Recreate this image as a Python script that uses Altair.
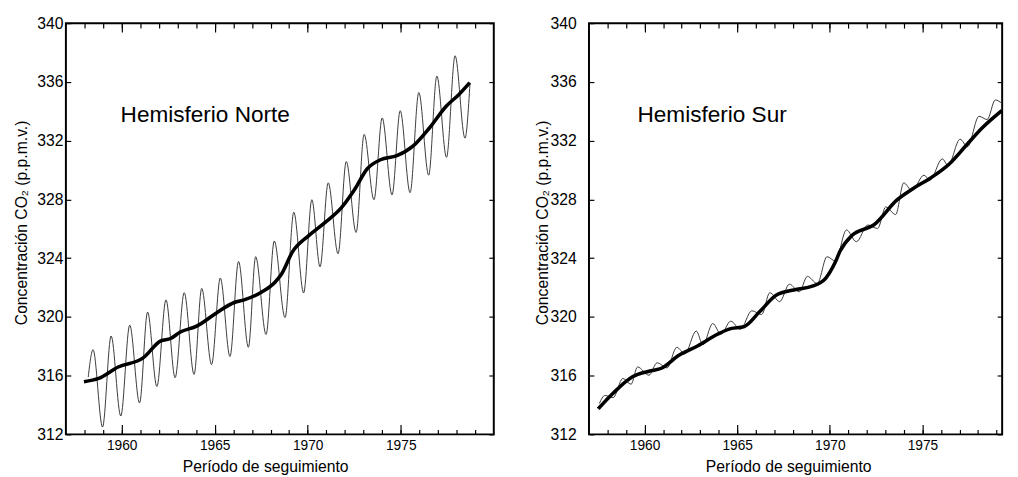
import altair as alt
import pandas as pd

# ---------------- data ----------------
nh_season_year = [1958.2, 1958.46, 1958.97, 1959.43, 1959.95, 1960.43, 1960.96, 1961.39, 1961.89,
                  1962.38, 1962.87, 1963.36, 1963.89, 1964.3, 1964.83, 1965.3, 1965.82, 1966.28,
                  1966.81, 1967.2, 1967.76, 1968.2, 1968.78, 1969.25, 1969.78, 1970.22, 1970.66,
                  1971.1, 1971.63, 1972.07, 1972.6, 1973.03, 1973.56, 1974.0, 1974.53, 1974.97,
                  1975.5, 1975.97, 1976.5, 1976.94, 1977.46, 1977.92, 1978.45, 1978.72]
nh_season_val = [315.9, 317.77, 312.5, 318.7, 313.25, 319.44, 314.14, 320.33, 315.26,
                 321.16, 315.86, 321.65, 316.08, 321.94, 316.75, 322.65, 317.3, 323.78,
                 317.93, 324.1, 318.8, 325.17, 319.95, 327.13, 321.63, 327.98, 323.41,
                 329.13, 324.3, 330.58, 325.75, 332.43, 327.98, 333.55, 328.31, 334.04,
                 328.46, 335.28, 329.65, 336.4, 330.87, 337.78, 332.17, 335.9]

nh_trend_year = [1957.97, 1958.76, 1959.81, 1961.13, 1962.1, 1962.63, 1963.15, 1964.03, 1965.09,
                 1966.05, 1966.58, 1967.55, 1968.25, 1968.6, 1969.17, 1970.04, 1970.92, 1971.8,
                 1972.5, 1973.2, 1973.91, 1974.79, 1975.67, 1976.55, 1977.43, 1978.13, 1978.71]
nh_trend_val = [315.59, 315.81, 316.59, 317.19, 318.37, 318.53, 318.97, 319.37, 320.27,
                320.98, 321.16, 321.71, 322.38, 322.94, 324.41, 325.52, 326.42, 327.42,
                328.64, 330.09, 330.7, 330.98, 331.65, 332.88, 334.33, 335.15, 335.95]

sh_season_year = [1957.56, 1957.86, 1958.3, 1958.83, 1959.27, 1959.62, 1960.24, 1960.68, 1961.21,
                  1961.74, 1962.17, 1962.79, 1963.15, 1963.68, 1964.12, 1964.65, 1965.17, 1965.79,
                  1966.32, 1966.76, 1967.29, 1967.82, 1968.35, 1968.79, 1969.32, 1969.85, 1970.3,
                  1970.9, 1971.43, 1972.05, 1972.58, 1973.02, 1973.55, 1973.99, 1974.43, 1975.08,
                  1975.4, 1976.07, 1976.38, 1977.03, 1977.43, 1978.05, 1978.49, 1978.93, 1979.28]
sh_season_val = [314.1, 314.65, 314.5, 315.81, 315.41, 316.59, 316.03, 316.88, 316.52,
                 317.93, 317.48, 319.04, 318.1, 319.55, 318.82, 319.71, 319.15, 320.42,
                 320.16, 321.65, 321.04, 322.23, 321.71, 322.76, 322.27, 324.1, 323.8,
                 325.92, 325.12, 326.26, 326.02, 327.49, 326.97, 329.13, 328.6, 329.65,
                 329.31, 330.76, 330.32, 332.1, 331.59, 333.66, 333.44, 334.77, 334.55]

sh_trend_year = [1957.5, 1958.3, 1959.35, 1960.24, 1960.94, 1961.83, 1962.88, 1963.94, 1964.65,
                 1965.35, 1966.23, 1967.12, 1968.17, 1969.05, 1969.76, 1970.29, 1970.56, 1971.17,
                 1972.41, 1973.64, 1974.52, 1975.4, 1976.46, 1977.34, 1978.23, 1979.28]
sh_trend_val = [313.74, 314.8, 315.92, 316.3, 316.52, 317.37, 318.04, 318.82, 319.2,
                319.33, 320.38, 321.49, 321.87, 322.09, 322.61, 323.72, 324.5, 325.52,
                326.3, 327.98, 328.76, 329.43, 330.43, 331.65, 332.88, 334.05]

panel_labels = ["Hemisferio Norte", "Hemisferio Sur"]
panel_label_year = [1959.94, 1959.62]
panel_label_val = [333.3, 333.3]

y_ticks = [312, 316, 320, 324, 328, 332, 336, 340]
x_major = [1960, 1965, 1970, 1975]
x_minor = list(range(1958, 1980))

FONT = "Liberation Sans"


def panel(season_year, season_val, trend_year, trend_val, label, lyear, lval,
          xmax, width, label_pad, title_pad):
    season = pd.DataFrame({"year": season_year, "co2": season_val})
    trend = pd.DataFrame({"year": trend_year, "co2": trend_val})
    lab = pd.DataFrame({"year": [lyear], "co2": [lval], "label": [label]})
    xs = alt.Scale(domain=[1957, xmax], nice=False, zero=False)
    ys = alt.Scale(domain=[312, 340], nice=False, zero=False)

    ax_bottom_minor = alt.Axis(orient="bottom", values=x_minor, tickSize=5, offset=-5,
                               labels=False, title=None, domain=False, grid=False)
    ax_bottom_major = alt.Axis(orient="bottom", values=x_major, tickSize=10, offset=-10,
                               format="d", labelPadding=4, labelFontSize=14,
                               title="Período de seguimiento", titleFontSize=16,
                               titlePadding=7, titleX=203, domain=False, grid=False)
    ax_top_minor = alt.Axis(orient="top", values=x_minor, tickSize=5, offset=-5,
                            labels=False, title=None, domain=False, grid=False)
    ax_top_major = alt.Axis(orient="top", values=x_major, tickSize=9, offset=-9,
                            labels=False, title=None, domain=False, grid=False)
    ax_left = alt.Axis(orient="left", values=y_ticks, tickSize=5, offset=-5,
                       labelPadding=label_pad, labelFontSize=16,
                       title="Concentración CO₂ (p.p.m.v.)", titleFontSize=16,
                       titlePadding=title_pad, titleY=203, domain=False, grid=False)
    ax_right = alt.Axis(orient="right", values=y_ticks, tickSize=5, offset=-5,
                        labels=False, title=None, domain=False, grid=False)

    l1 = alt.Chart(season).mark_line(color="#3a3a3a", strokeWidth=1, interpolate="monotone").encode(
        x=alt.X("year:Q", scale=xs, axis=ax_bottom_minor),
        y=alt.Y("co2:Q", scale=ys, axis=ax_left),
        order="year:Q",
    )
    l2 = alt.Chart(trend).mark_line(color="black", strokeWidth=3.6, interpolate="monotone").encode(
        x=alt.X("year:Q", scale=xs, axis=ax_bottom_major),
        y=alt.Y("co2:Q", scale=ys, axis=ax_right),
        order="year:Q",
    )
    l3 = alt.Chart(lab).mark_text(align="left", baseline="alphabetic", font=FONT,
                                  fontSize=23, color="black").encode(
        x=alt.X("year:Q", scale=xs, axis=ax_top_minor),
        y=alt.Y("co2:Q", scale=ys, axis=None),
        text="label:N",
    )
    l4 = alt.Chart(trend).mark_point(opacity=0).encode(
        x=alt.X("year:Q", scale=xs, axis=ax_top_major),
        y=alt.Y("co2:Q", scale=ys, axis=None),
    )
    return alt.layer(l1, l2, l3, l4).resolve_axis(x="independent", y="independent").properties(
        width=width, height=419)


left = panel(nh_season_year, nh_season_val, nh_trend_year, nh_trend_val,
             panel_labels[0], panel_label_year[0], panel_label_val[0],
             1980, 436, 3, 7)
right = panel(sh_season_year, sh_season_val, sh_trend_year, sh_trend_val,
              panel_labels[1], panel_label_year[1], panel_label_val[1],
              1979.3, 421, 13, 0)

chart = alt.hconcat(left, right, spacing=38).properties(
    padding={"left": 5, "top": 2, "right": 0, "bottom": 0},
    background="white",
).configure_view(stroke="black", strokeWidth=2).configure_axis(
    grid=False, domain=False, tickColor="black", tickWidth=1.2,
    labelColor="black", titleColor="black", labelFont=FONT, titleFont=FONT,
    titleFontWeight="normal",
)

chart.save("out.html", embed_options={"renderer": "svg", "actions": False})
